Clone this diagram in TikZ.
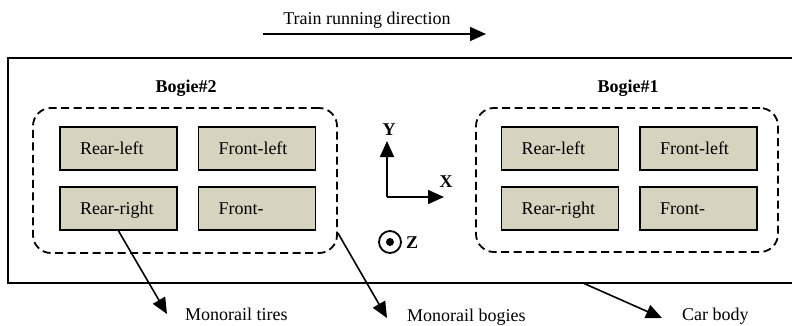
\documentclass[tikz,border=0pt]{standalone}
\usepackage{fontspec}
\setmainfont{Liberation Serif}
\usetikzlibrary{arrows.meta}
\definecolor{boxfill}{RGB}{214,211,190}
\tikzset{
  lbl/.style={font=\fontsize{18}{20}\selectfont, inner sep=0},
  boldlbl/.style={font=\fontsize{18}{20}\selectfont\bfseries, inner sep=0},
  tire/.style={draw, line width=1.8, fill=boxfill, minimum width=117, minimum height=43,
    text width=77, inner xsep=20, align=left, text height=13, text depth=2,
    font=\fontsize{18}{20}\selectfont},
  bogie/.style={draw, line width=1.8, dash pattern=on 8pt off 4.5pt, rounded corners=18},
  arr/.style={line width=1.6, -{Triangle[length=16pt,width=14pt]}},
}
\begin{document}
\begin{tikzpicture}[x=1pt,y=-1pt]
\useasboundingbox (0,0) rectangle (792,325);
% direction arrow
\coordinate (d1) at (263,34);
\coordinate (d2) at (486,34);
\draw[arr] (d1) -- (d2);
\node[lbl, anchor=base] (dir) at (367,24) {Train running direction};
% car body
\coordinate (cbtr) at (792,58);
\coordinate (cbtl) at (8,58);
\coordinate (cbbl) at (8,283);
\coordinate (cbbr) at (792,283);
\draw[line width=2] (cbtr) -- (cbtl) -- (cbbl) -- (cbbr);
% bogie 2
\node[bogie, minimum width=304, minimum height=145] (b2) at (185,180.5) {};
\node[boldlbl, anchor=base] (b2l) at (186,92) {Bogie\#2};
\node[tire] (rl2) at (118.5,148.5) {Rear-left};
\node[tire] (fl2) at (257,148.5) {Front-left};
\node[tire] (rr2) at (118.5,208.5) {Rear-right};
\node[tire] (fr2) at (257,208.5) {Front-};
% bogie 1
\node[bogie, minimum width=302, minimum height=144] (b1) at (627,180) {};
\node[boldlbl, anchor=base] (b1l) at (628,92) {Bogie\#1};
\node[tire] (rl1) at (560,148.5) {Rear-left};
\node[tire] (fl1) at (698.5,148.5) {Front-left};
\node[tire] (rr1) at (560,208.5) {Rear-right};
\node[tire] (fr1) at (698.5,208.5) {Front-};
% axes
\coordinate (o) at (387,197);
\coordinate (yt) at (387,141);
\coordinate (xt) at (444,197);
\draw[arr] (o) -- (yt);
\draw[arr] (o) -- (xt);
\node[boldlbl, anchor=base] (ylab) at (389,135) {Y};
\node[boldlbl, anchor=base] (xlab) at (446,187) {X};
\node[draw, circle, line width=1.8, minimum size=22, inner sep=0] (zc) at (390,242) {};
\fill (zc.center) circle (4);
\node[boldlbl, anchor=base west] (zlab) at (406,248) {Z};
% callouts
\coordinate (t1) at (167,314);
\draw[arr] (rr2.south) -- (t1);
\node[lbl, anchor=base west] (tires) at (185,320) {Monorail tires};
\coordinate (t2) at (387,318);
\draw[arr] ([yshift=-52.5pt]b2.east) -- (t2);
\node[lbl, anchor=base west] (bogies) at (407,321) {Monorail bogies};
\coordinate (cb) at (583,283);
\coordinate (t3) at (662,318);
\draw[arr] (cb) -- (t3);
\node[lbl, anchor=base west] (carbody) at (682,320) {Car body};
\end{tikzpicture}
\end{document}
